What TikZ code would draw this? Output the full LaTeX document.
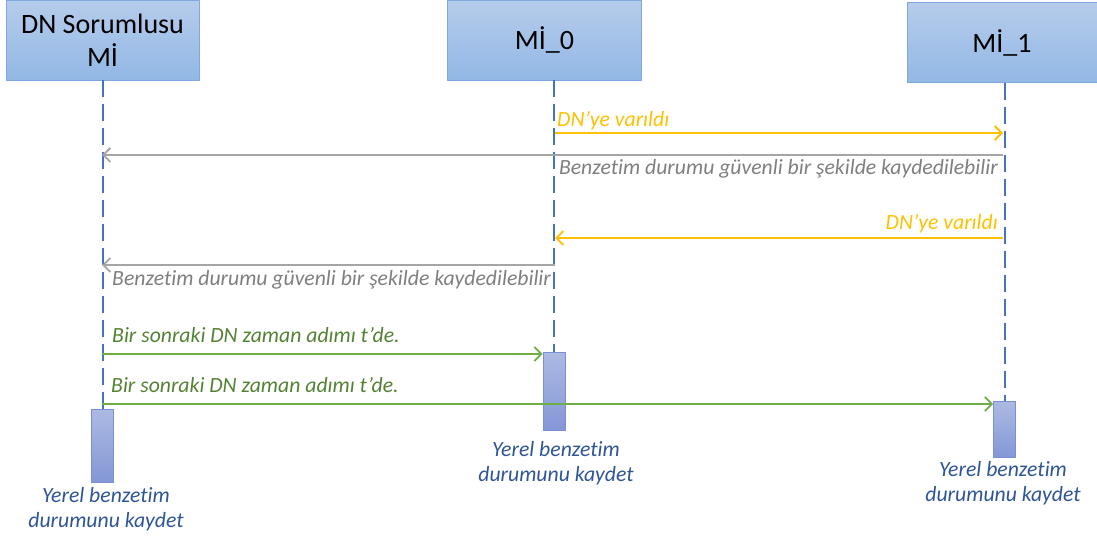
\documentclass[tikz,border=0pt]{standalone}
\usepackage{fontspec}
\setmainfont{Carlito}[Ligatures={NoCommon}]
\usetikzlibrary{arrows.meta}
\definecolor{headtop}{RGB}{182,204,235}
\definecolor{headbot}{RGB}{146,184,229}
\definecolor{headline}{RGB}{128,168,222}
\definecolor{acttop}{RGB}{172,186,226}
\definecolor{actbot}{RGB}{132,151,214}
\definecolor{actline}{RGB}{124,143,210}
\definecolor{lifeblue}{HTML}{4472C4}
\definecolor{msgyel}{HTML}{FFC000}
\definecolor{msggray}{HTML}{A5A5A5}
\definecolor{txtgray}{HTML}{7F7F7F}
\definecolor{msggreen}{HTML}{70AD47}
\definecolor{txtgreen}{HTML}{548235}
\definecolor{txtblue}{HTML}{2F5597}
\begin{document}
\begin{tikzpicture}[x=1pt,y=-1pt,line join=round,>={Straight Barb[length=7pt,width=14pt]},
	head/.style={draw=headline,line width=0.8pt,top color=headtop,bottom color=headbot,inner sep=0pt,
		minimum height=80pt,align=center,font=\fontsize{28}{33}\selectfont},
	act/.style={draw=actline,line width=0.8pt,top color=acttop,bottom color=actbot,inner sep=0pt,minimum width=22pt},
	life/.style={draw=lifeblue,line width=2pt,dash pattern=on 17pt off 7pt},
	msg/.style={line width=1.8pt,->},
	lbl/.style={inner sep=0pt,font=\fontsize{21.7}{26}\selectfont\itshape},
	note/.style={inner sep=0pt,align=center,text=txtblue,font=\fontsize{21.7}{25}\selectfont\itshape}]
	\useasboundingbox (0,0) rectangle (1097,537);
	% heads and activations
	\node[head,minimum width=193pt] (hA) at (102.5,40) {DN Sorumlusu\\Mİ};
	\node[head,minimum width=194pt] (hB) at (544.5,40) {Mİ\_0};
	\node[head,minimum width=190pt] (hC) at (1002,42.5) {Mİ\_1};
	\node[act,minimum height=73pt] (aA) at (102.5,445.5) {};
	\node[act,minimum height=78pt] (aB) at (554,391) {};
	\node[act,minimum height=56pt] (aC) at (1004.5,429.5) {};
	\node[note,anchor=base] (nA) at (106,527) {Yerel benzetim\\durumunu kaydet};
	\node[note,anchor=base] (nB) at (556,481) {Yerel benzetim\\durumunu kaydet};
	\node[note,anchor=base] (nC) at (1003,501) {Yerel benzetim\\durumunu kaydet};
	% lifelines
	\draw[life] (hA.south) -- (aA.north);
	\draw[life] (hB.south -| aB.north) -- (aB.north);
	\draw[life] (hC.south -| aC.north) -- (aC.north);
	% message ends
	\path
	(555,133) coordinate (m1s) (1003,133) coordinate (m1e)
	(1003,155) coordinate (m2s) (102,155) coordinate (m2e)
	(1003,238) coordinate (m3s) (555,238) coordinate (m3e)
	(555,265) coordinate (m4s) (102,265) coordinate (m4e)
	(102,354) coordinate (m5s) (aB.west |- m5s) coordinate (m5e)
	(102,404) coordinate (m6s) (aC.west |- m6s) coordinate (m6e)
	;
	\draw[msg,msgyel] (m1s) -- (m1e);
	\draw[msg,msggray] (m2s) -- (m2e);
	\draw[msg,msgyel] (m3s) -- (m3e);
	\draw[msg,msggray] (m4s) -- (m4e);
	\draw[msg,msggreen] (m5s) -- (m5e);
	\draw[msg,msggreen] (m6s) -- (m6e);
	% message labels
	\node[lbl,text=msgyel,anchor=base west] (t1) at (557,127) {DN’ye varıldı};
	\node[lbl,text=txtgray,anchor=base east] (t2) at (998,175) {Benzetim durumu güvenli bir şekilde kaydedilebilir};
	\node[lbl,text=msgyel,anchor=base east] (t3) at (998,230) {DN’ye varıldı};
	\node[lbl,text=txtgray,anchor=base west] (t4) at (112,286) {Benzetim durumu güvenli bir şekilde kaydedilebilir};
	\node[lbl,text=txtgreen,anchor=base west] (t5) at (112,342) {Bir sonraki DN zaman adımı t’de.};
	\node[lbl,text=txtgreen,anchor=base west] (t6) at (111,392) {Bir sonraki DN zaman adımı t’de.};
\end{tikzpicture}
\end{document}
